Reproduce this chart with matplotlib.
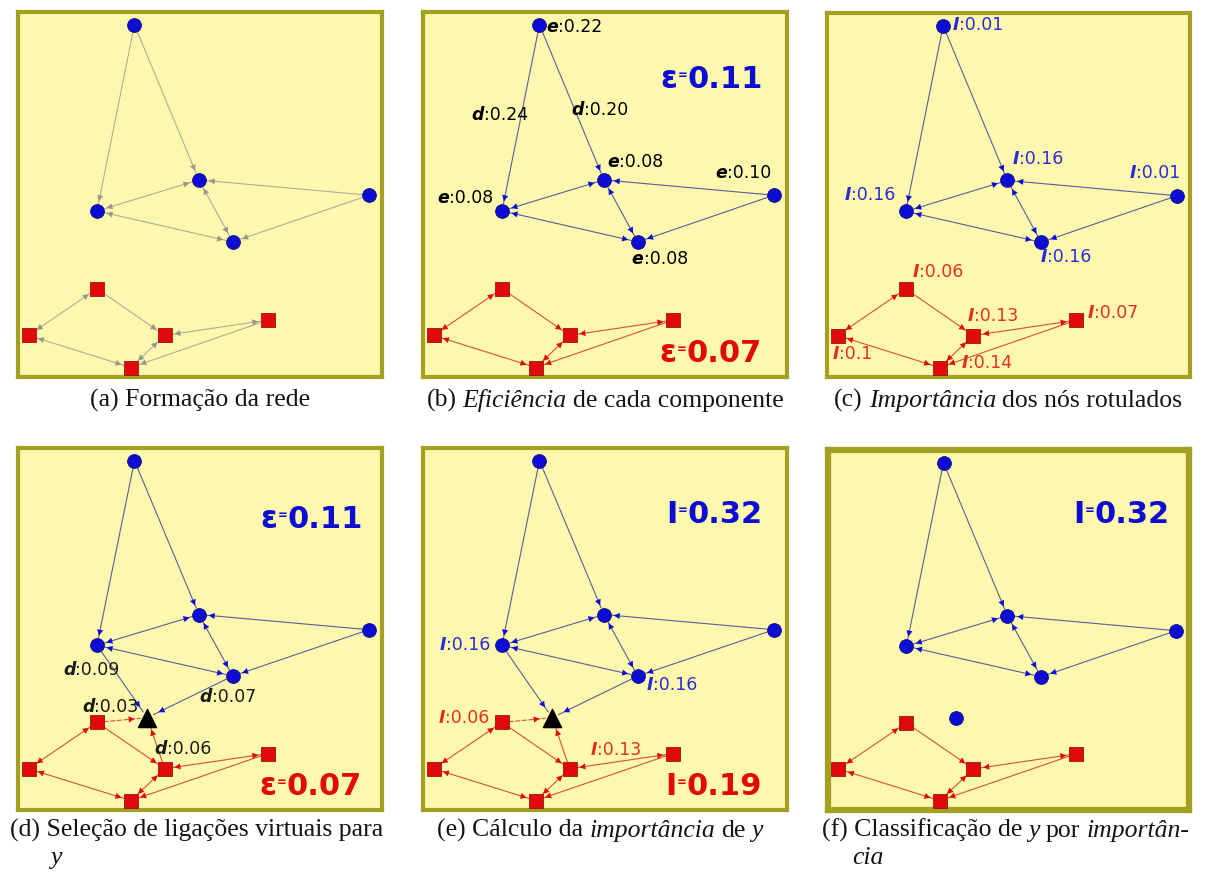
import matplotlib.pyplot as plt
from matplotlib.patches import FancyArrowPatch

# ---- graph data (node positions as fractions of each panel) ----
blue_ids = ['b1', 'b2', 'b3', 'b4', 'b5']
blue_x = [0.320, 0.497, 0.217, 0.590, 0.964]
blue_y = [0.965, 0.540, 0.455, 0.370, 0.498]
red_ids = ['r1', 'r2', 'r3', 'r4', 'r5']
red_x = [0.217, 0.029, 0.403, 0.687, 0.310]
red_y = [0.242, 0.114, 0.114, 0.156, 0.026]
new_x, new_y = 0.355, 0.255

# (source, target, bidirectional)
blue_edges = [('b1', 'b3', False), ('b1', 'b2', False), ('b2', 'b3', True),
              ('b3', 'b4', True), ('b2', 'b4', True), ('b5', 'b2', False),
              ('b5', 'b4', False)]
red_edges = [('r1', 'r2', True), ('r1', 'r3', False), ('r2', 'r5', True),
             ('r3', 'r5', True), ('r3', 'r4', True), ('r4', 'r5', False)]
virtual_src = ['b3', 'b4', 'r1', 'r3']

# ---- measures ----
eff_nodes = ['b1', 'b2', 'b3', 'b4', 'b5']
eff_vals = [0.22, 0.08, 0.08, 0.08, 0.10]
dist_edges = [('b1', 'b3'), ('b1', 'b2')]
dist_vals = [0.24, 0.20]
imp_nodes = ['b1', 'b2', 'b3', 'b4', 'b5', 'r1', 'r2', 'r3', 'r4', 'r5']
imp_vals = [0.01, 0.16, 0.16, 0.16, 0.01, 0.06, 0.1, 0.13, 0.07, 0.14]
virt_dist = [0.09, 0.07, 0.03, 0.06]
virt_imp = [0.16, 0.16, 0.06, 0.13]
eps_blue, eps_red = 0.11, 0.07
imp_blue, imp_red = 0.32, 0.19

captions = {
    'a': [('(a) Formação da rede', 'normal')],
    'b': [('(b)', 'normal'), ('Eficiência', 'italic'), ('de cada componente', 'normal')],
    'c': [('(c)', 'normal'), ('Importância', 'italic'), ('dos nós rotulados', 'normal')],
    'd': [('(d) Seleção de ligações virtuais para', 'normal')],
    'd2': [('y', 'italic')],
    'e': [('(e) Cálculo da', 'normal'), ('importância', 'italic'), ('de', 'normal'), ('y', 'italic')],
    'f': [('(f) Classificação de', 'normal'), ('y', 'italic'), ('por', 'normal'), ('importân-', 'italic')],
    'f2': [('cia', 'italic')],
}

# ---- style ----
W, H = 1205, 882
BG = '#fdf8ae'
FRAME = '#a3a024'
BLUE = '#0c0cd2'
RED = '#e00a0a'
BLUE_LINE = '#56609a'
RED_LINE = '#d8503c'
GRAY_LINE = '#aeae98'
GRAY_HEAD = '#98988a'
BLUE_TXT = '#2a2ad6'
RED_TXT = '#e2321e'
boxes = {'a': (18, 12, 382, 377), 'b': (423, 12, 787, 377), 'c': (827, 13, 1190, 377),
         'd': (18, 448, 382, 810), 'e': (423, 448, 787, 810), 'f': (828, 450, 1189, 810)}

pos = {}
for k, x, y in zip(blue_ids, blue_x, blue_y):
    pos[k] = (x, y)
for k, x, y in zip(red_ids, red_x, red_y):
    pos[k] = (x, y)
pos['y'] = (new_x, new_y)

fig = plt.figure(figsize=(W / 100, H / 100), dpi=100)
cap = fig.add_axes([0, 0, 1, 1])
cap.set_xlim(0, W)
cap.set_ylim(H, 0)
cap.axis('off')


def panel(key, fw=3):
    x0, y0, x1, y1 = boxes[key]
    ax = fig.add_axes([x0 / W, 1 - y1 / H, (x1 - x0) / W, (y1 - y0) / H])
    ax.set_xlim(0, 1)
    ax.set_ylim(0, 1)
    ax.set_xticks([])
    ax.set_yticks([])
    ax.set_facecolor(BG)
    for s in ax.spines.values():
        s.set_color(FRAME)
        s.set_linewidth(fw)
    return ax


def edge(ax, a, b, line_c, head_c, both=False, ls='-', shrink_b=7):
    p, q = pos[a], pos[b]
    ax.add_patch(FancyArrowPatch(p, q, arrowstyle='-', color=line_c, lw=0.8, ls=ls,
                                 shrinkA=5, shrinkB=5, zorder=1))
    style = '<|-|>' if both else '-|>'
    ax.add_patch(FancyArrowPatch(p, q, arrowstyle=style, mutation_scale=11,
                                 shrinkA=7, shrinkB=shrink_b, fc=head_c, ec='none',
                                 lw=0, zorder=2))


def network(ax, gray=False, virtual=False, y_color=None):
    for a, b, both in blue_edges:
        edge(ax, a, b, GRAY_LINE if gray else BLUE_LINE, GRAY_HEAD if gray else BLUE, both)
    for a, b, both in red_edges:
        edge(ax, a, b, GRAY_LINE if gray else RED_LINE, GRAY_HEAD if gray else RED, both)
    if virtual:
        for s in virtual_src:
            blue = s.startswith('b')
            edge(ax, s, 'y', BLUE_LINE if blue else RED_LINE, BLUE if blue else RED,
                 ls='-' if blue or s != 'r1' else (0, (4, 2)), shrink_b=9)
    ax.scatter(blue_x, blue_y, s=100, c=BLUE, edgecolors='#00007a', linewidths=0.5,
               zorder=4, clip_on=False)
    ax.scatter(red_x, red_y, s=105, marker='s', c=RED, edgecolors='#8a0000',
               linewidths=0.5, zorder=4, clip_on=False)
    if virtual:
        ax.scatter([new_x], [new_y], s=170, marker='^', c='black', zorder=5)
    if y_color:
        ax.scatter([new_x], [new_y], s=100, c=y_color, edgecolors='#00007a',
                   linewidths=0.5, zorder=4)


def tag(ax, xy, letter, value, color, dx, dy):
    t = ax.annotate(letter, xy=xy, xytext=(dx, dy), textcoords='offset pixels',
                    ha='left', va='center', fontsize=12.5, fontweight='bold',
                    fontstyle='oblique', color=color, zorder=6)
    ax.annotate(':' + value, xy=(1, 0.5), xycoords=t, ha='left', va='center',
                fontsize=12.5, color=color, zorder=6)


def total(ax, sym, value, color, x, y):
    num = ax.text(x, y, f'{value:.2f}', ha='right', va='baseline', fontsize=22,
                  fontweight='bold', color=color, transform=ax.transAxes, zorder=6)
    eq = ax.annotate('=', xy=(0, 0.5), xycoords=num, xytext=(0, 4),
                     textcoords='offset pixels', ha='right', va='center', fontsize=8.5,
                     fontweight='bold', color=color, zorder=6)
    ax.annotate(sym, xy=(0, 0), xycoords=(eq, num), xytext=(0, 0),
                textcoords='offset pixels', ha='right', va='bottom', fontsize=22,
                fontweight='bold', color=color, zorder=6)


def caption(x, y, parts):
    kw = dict(family='Liberation Serif', fontsize=18.5, color='#141414')
    t = cap.text(x, y, parts[0][0], fontstyle=parts[0][1], ha='left', va='baseline', **kw)
    out = [t]
    for s, st in parts[1:]:
        t = cap.annotate(s, xy=(1, 0), xycoords=t, xytext=(6, 0), textcoords='offset pixels',
                         ha='left', va='bottom', fontstyle=st, **kw)
        out.append(t)
    return out


# (a) network formation
ax = panel('a')
network(ax, gray=True)

# (b) efficiency
ax = panel('b')
network(ax)
eff_off = {'b1': (7, -2), 'b2': (3, 18), 'b3': (-65, 13), 'b4': (-6, -17), 'b5': (-59, 22)}
for n, v in zip(eff_nodes, eff_vals):
    tag(ax, pos[n], 'e', f'{v:.2f}', 'black', *eff_off[n])
dist_off = [(-49, 3), (0, -8)]
for (a, b), v, off in zip(dist_edges, dist_vals, dist_off):
    mid = ((pos[a][0] + pos[b][0]) / 2, (pos[a][1] + pos[b][1]) / 2)
    tag(ax, mid, 'd', f'{v:.2f}', 'black', *off)
total(ax, 'ε', eps_blue, BLUE, 0.934, 0.792)
total(ax, 'ε', eps_red, RED, 0.931, 0.041)

# (c) importance of labeled nodes
ax = panel('c')
network(ax)
imp_off = {'b1': (9, 1), 'b2': (5, 21), 'b3': (-61, 16), 'b4': (-1, -15), 'b5': (-47, 23),
           'r1': (7, 17), 'r2': (-5, -18), 'r3': (-6, 20), 'r4': (11, 7), 'r5': (22, 5)}
for n, v in zip(imp_nodes, imp_vals):
    c = BLUE_TXT if n.startswith('b') else RED_TXT
    tag(ax, pos[n], 'I', f'{v:g}', c, *imp_off[n])

# (d) virtual links for y
ax = panel('d')
network(ax, virtual=True)
vd_off = [(-34, -25), (-33, -21), (-15, 15), (-10, 20)]
for n, v, off in zip(virtual_src, virt_dist, vd_off):
    tag(ax, pos[n], 'd', f'{v:.2f}', '#1a1a1a', *off)
total(ax, 'ε', eps_blue, BLUE, 0.948, 0.78)
total(ax, 'ε', eps_red, RED, 0.945, 0.041)

# (e) importance of y
ax = panel('e')
network(ax, virtual=True)
vi_off = [(-62, 0), (9, -9), (-63, 4), (21, 19)]
for n, v, off in zip(virtual_src, virt_imp, vi_off):
    c = BLUE_TXT if n.startswith('b') else RED_TXT
    tag(ax, pos[n], 'I', f'{v:g}', c, *off)
total(ax, 'I', imp_blue, BLUE, 0.934, 0.793)
total(ax, 'I', imp_red, RED, 0.931, 0.041)

# (f) classification of y
ax = panel('f', fw=4.5)
network(ax, y_color=BLUE)
total(ax, 'I', imp_blue, BLUE, 0.947, 0.797)

# captions
centered = [(caption(0, 407, captions['a']), 200), (caption(0, 407, captions['b']), 605),
            (caption(0, 407, captions['c']), 1008), (caption(0, 837, captions['e']), 600)]
caption(10, 837, captions['d'])
caption(50, 864, captions['d2'])
caption(822, 837, captions['f'])
caption(852, 864, captions['f2'])

fig.canvas.draw()
for texts, cx in centered:
    x0 = texts[0].get_window_extent().x0
    x1 = texts[-1].get_window_extent().x1
    texts[0].set_x(cx - (x1 - x0) / 2)

fig.savefig('out.png', dpi=100)
